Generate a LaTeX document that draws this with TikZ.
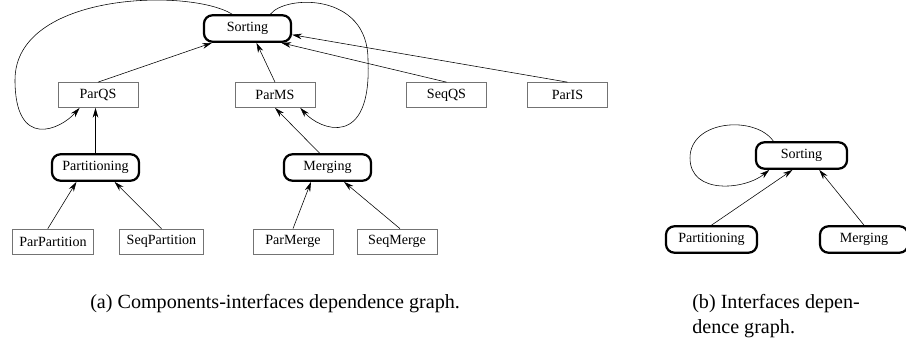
\documentclass[tikz,border=0pt]{standalone}
\usepackage{fontspec}
\setmainfont{Liberation Serif}
\usetikzlibrary{positioning,arrows.meta}
\tikzset{comp/.style={draw=black!55,line width=0.5pt,minimum width=2cm,minimum height=0.625cm,inner xsep=5pt,font=\fontsize{10}{12}\selectfont}  }
\tikzset{intf/.style={draw,line width=1.6pt,rounded corners=6pt,minimum width=2.175cm,minimum height=0.66cm,font=\fontsize{10}{12}\selectfont}  }
\tikzset{capt/.style={font=\fontsize{14.3}{17.5}\selectfont,inner sep=0pt}  }
\tikzset{>={Stealth[length=7pt,width=4pt]}}

\begin{document}
\begin{tikzpicture}[x=0.025cm,y=-0.025cm]
	\useasboundingbox (0,0) rectangle (906,348);
	% (a) components and interfaces
		\node[intf] (sorting) at (247.5,28.5) {Sorting};
		\node[comp] (parqs) at (98,95) {ParQS};
		\node[comp] (parms) at (275,95) {ParMS};
		\node[comp] (seqqs) at (446.5,95) {SeqQS};
		\node[comp] (paris) at (567.5,95) {ParIS};
		\node[intf] (partitioning) at (95.5,167.5) {Partitioning};
		\node[intf] (merging) at (327.5,167.5) {Merging};
		\node[comp] (parpartition) at (53,241.5) {ParPartition};
		\node[comp] (seqpartition) at (161.5,241.5) {SeqPartition};
		\node[comp] (parmerge) at (293,241.5) {ParMerge};
		\node[comp] (seqmerge) at (397,241.5) {SeqMerge};

			\path[->]
				  (parqs.north) edge (sorting.202)
				  (parms.north) edge (sorting.302)
				  (seqqs.north) edge (sorting.337)
				  (paris.north) edge (sorting.352)
				  (partitioning.north) edge (parqs.south -| partitioning.north)
				  (merging.119) edge (parms.south)
				  (parpartition.112) edge (partitioning.217)
				  (seqpartition.north) edge (partitioning.323)
				  (parmerge.north) edge (merging.221)
				  (seqmerge.77) edge (merging.319)
				;
			\draw[->] (sorting.137) .. controls (190,-12) and (15,-8) .. (15,80)
				.. controls (15,150) and (60,130) .. (parqs.215);
			\draw[->] (sorting.32) .. controls (285,-5) and (368,-8) .. (368,60)
				.. controls (372,150) and (320,130) .. (parms.333);

	% (b) interfaces only
		\node[intf,minimum width=2.275cm] (sortingb) at (801.5,155.5) {Sorting};
		\node[intf,minimum width=2.275cm] (partitioningb) at (711.5,239.5) {Partitioning};
		\node[intf,minimum width=2.2cm] (mergingb) at (864,239.5) {Merging};

			\path[->]
				  (partitioningb.north) edge (sortingb.238)
				  (mergingb.north) edge (sortingb.321)
				;
			\draw[->] (sortingb.153) .. controls (755,115) and (690,120) .. (690,158)
				.. controls (690,195) and (745,190) .. (sortingb.204);

	% captions
		\node[capt,anchor=west] (capa) at (90,304) {(a) Components-interfaces dependence graph.};
		\node[capt,anchor=north west,align=left] (capb) at (692,294) {(b) Interfaces depen-\\dence graph.};
\end{tikzpicture}
\end{document}
